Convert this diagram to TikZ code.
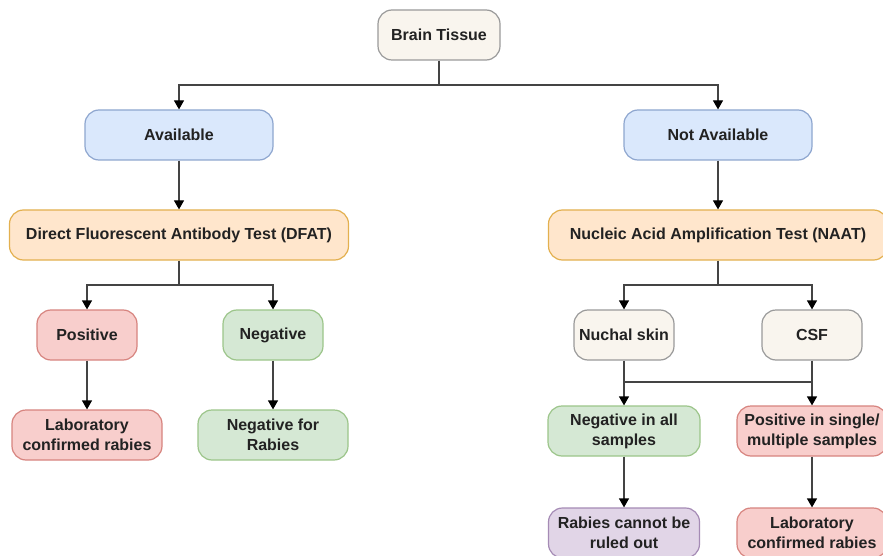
\documentclass[tikz,border=0pt]{standalone}
\usepackage{fontspec}
\setmainfont{Liberation Sans}
\usetikzlibrary{arrows.meta}
\definecolor{beigef}{HTML}{F9F5EE}
\definecolor{beiged}{HTML}{9A9A9A}
\definecolor{bluef}{HTML}{DAE8FC}
\definecolor{blued}{HTML}{8EA6CF}
\definecolor{orangef}{HTML}{FFE6CC}
\definecolor{oranged}{HTML}{E3B04F}
\definecolor{redf}{HTML}{F8CECC}
\definecolor{redd}{HTML}{D7847F}
\definecolor{greenf}{HTML}{D5E8D4}
\definecolor{greend}{HTML}{9CC58A}
\definecolor{purplef}{HTML}{E1D5E7}
\definecolor{purpled}{HTML}{A58BB5}
\definecolor{linec}{HTML}{444444}
\definecolor{textc}{HTML}{222222}
\begin{document}
\begin{tikzpicture}[x=1pt,y=-1pt,
  box/.style={draw, rounded corners=14pt, line width=1.2pt, minimum height=50pt,
    inner sep=2pt, align=center, text=textc,
    font=\bfseries\fontsize{16}{20}\selectfont},
  beige/.style={box, fill=beigef, draw=beiged},
  blue/.style={box, fill=bluef, draw=blued},
  orange/.style={box, fill=orangef, draw=oranged},
  red/.style={box, fill=redf, draw=redd},
  green/.style={box, fill=greenf, draw=greend},
  purple/.style={box, fill=purplef, draw=purpled},
  arr/.style={draw=linec, line width=1.2pt, -{Triangle[width=10pt,length=9pt,color=black,fill=black]}},
  ln/.style={draw=linec, line width=1.2pt}]
\useasboundingbox (0,0) rectangle (883,556);
\fill[white] (0,0) rectangle (883,556);

\node[beige, minimum width=122pt] (brain) at (439,35) {Brain Tissue};
\node[blue, minimum width=188pt] (avail) at (179,135) {Available};
\node[blue, minimum width=188pt] (navail) at (718,135) {Not Available};
\node[orange, minimum width=339pt] (dfat) at (179,235) {Direct Fluorescent Antibody Test (DFAT)};
\node[orange, minimum width=339pt] (naat) at (718,235) {Nucleic Acid Amplification Test (NAAT)};
\node[red, minimum width=100pt] (pos) at (87,335) {Positive};
\node[green, minimum width=100pt] (neg) at (273,335) {Negative};
\node[red, minimum width=150pt] (lab1) at (87,435) {Laboratory\\confirmed rabies};
\node[green, minimum width=150pt] (negr) at (273,435) {Negative for\\Rabies};
\node[beige, minimum width=100pt] (nuchal) at (624,335) {Nuchal skin};
\node[beige, minimum width=100pt] (csf) at (812,335) {CSF};
\node[green, minimum width=152pt] (negall) at (624,431) {Negative in all\\samples};
\node[red, minimum width=150pt] (posm) at (812,431) {Positive in single/\\multiple samples};
\node[purple, minimum width=151pt] (rco) at (624,533) {Rabies cannot be\\ruled out};
\node[red, minimum width=150pt] (lab2) at (812,533) {Laboratory\\confirmed rabies};

\coordinate (j1) at (439,85);
\coordinate (j2) at (179,285);
\coordinate (j3) at (718,285);
\coordinate (j4) at (624,382);
\coordinate (j5) at (812,382);

\draw[ln] (brain) -- (j1);
\draw[arr] (j1) -| (avail);
\draw[arr] (j1) -| (navail);
\draw[arr] (avail) -- (dfat);
\draw[arr] (navail) -- (naat);
\draw[ln] (dfat) -- (j2);
\draw[arr] (j2) -| (pos);
\draw[arr] (j2) -| (neg);
\draw[ln] (naat) -- (j3);
\draw[arr] (j3) -| (nuchal);
\draw[arr] (j3) -| (csf);
\draw[arr] (pos) -- (lab1);
\draw[arr] (neg) -- (negr);
\draw[arr] (nuchal) -- (negall);
\draw[arr] (csf) -- (posm);
\draw[ln] (j4) -- (j5);
\draw[arr] (negall) -- (rco);
\draw[arr] (posm) -- (lab2);
\end{tikzpicture}
\end{document}
